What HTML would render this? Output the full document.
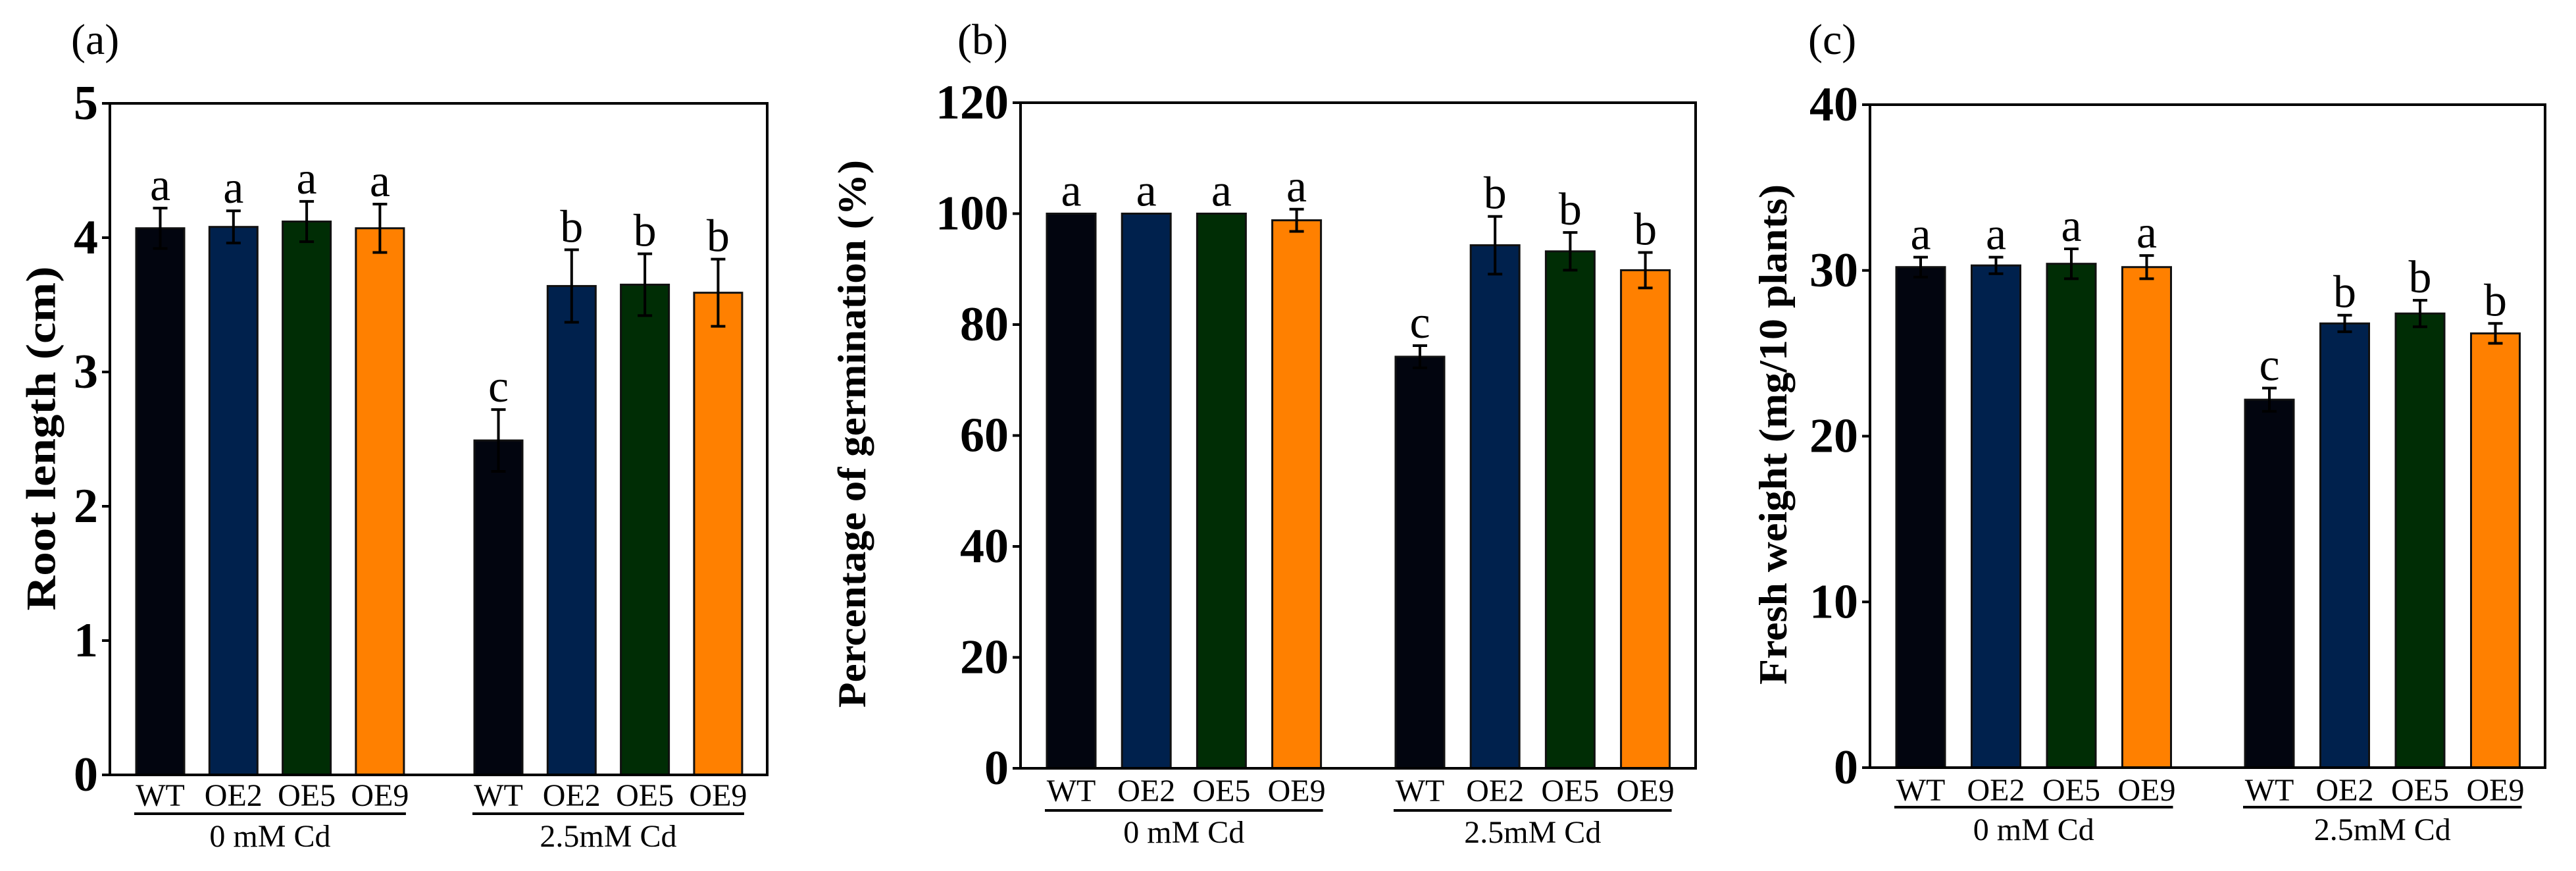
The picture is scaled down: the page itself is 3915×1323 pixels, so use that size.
<!DOCTYPE html>
<html><head><meta charset="utf-8"><style>
html,body{margin:0;padding:0;background:#fff;}
svg{display:block;}
text{font-family:"Liberation Serif",serif;fill:#000;}
</style></head><body>
<svg id="fig" width="3915" height="1323" viewBox="0 0 3915 1323" xmlns="http://www.w3.org/2000/svg"></svg>
<script>
// ----- data -----
const categories = ["WT","OE2","OE5","OE9"];
const groupLabels = ["0 mM Cd","2.5mM Cd"];
const colors = ["#02050f","#00214d","#002d05","#ff8000"];

const rootMeans = [4.07,4.08,4.12,4.07, 2.49,3.64,3.65,3.59];
const rootErrs  = [0.15,0.12,0.15,0.18, 0.23,0.27,0.23,0.25];
const rootLetters = ["a","a","a","a","c","b","b","b"];
const rootTicks = [0,1,2,3,4,5];

const germMeans = [100,100,100,98.8, 74.2,94.3,93.2,89.8];
const germErrs  = [0,0,0,2.0, 2.0,5.2,3.4,3.2];
const germLetters = ["a","a","a","a","c","b","b","b"];
const germTicks = [0,20,40,60,80,100,120];

const fwMeans = [30.2,30.3,30.4,30.2, 22.2,26.8,27.4,26.2];
const fwErrs  = [0.6,0.5,0.9,0.7, 0.7,0.5,0.8,0.6];
const fwLetters = ["a","a","a","a","c","b","b","b"];
const fwTicks = [0,10,20,30,40];

const NS="http://www.w3.org/2000/svg";
const svg=document.getElementById('fig');
function mk(tag,attrs,parent,txt){const e=document.createElementNS(NS,tag);for(const k in attrs)e.setAttribute(k,attrs[k]);if(txt!==undefined)e.textContent=txt;(parent||svg).appendChild(e);return e;}

function panel(cfg){
  const g=mk('g',{});
  
  
  const ymax=cfg.ticks[cfg.ticks.length-1];
  const y=v=>cfg.bottom-(v/ymax)*(cfg.bottom-cfg.top);
  const xb=i=>cfg.x0+(i<4?i*cfg.sp:cfg.g2-cfg.x0+(i-4)*cfg.sp);
  const pl=mk('text',{x:cfg.plx,y:82,'font-size':66},g,cfg.label);
  
  
  cfg.means.forEach((m,i)=>{
    const r=mk('rect',{x:xb(i),y:y(m),width:cfg.bw,height:cfg.bottom-y(m),fill:colors[i%4],stroke:'#111',"stroke-width":3},g);
    
    
    const cx=xb(i)+cfg.bw/2, e=cfg.errs[i];
    if(e>0){
      const eb=mk('path',{d:`M${cx},${y(m-e)}V${y(m+e)}M${cx-11},${y(m-e)}H${cx+11}M${cx-11},${y(m+e)}H${cx+11}`,stroke:'#000','stroke-width':4,fill:'none'},g);
      
      
    }
    const lt=mk('text',{x:cx,y:y(m+e)-12,'font-size':70,'text-anchor':'middle'},g,cfg.letters[i]);
    
    
    const cl=mk('text',{x:cx,y:cfg.catY,'font-size':48,'text-anchor':'middle'},g,categories[i%4]);
    
    
  });
  const fr=mk('rect',{x:cfg.left,y:cfg.top,width:cfg.right-cfg.left,height:cfg.bottom-cfg.top,fill:'none',stroke:'#000','stroke-width':4},g);
  
  
  cfg.ticks.forEach(t=>{
    const tk=mk('line',{x1:cfg.left-12,x2:cfg.left,y1:y(t),y2:y(t),stroke:'#000','stroke-width':4},g);
    
    
    const tl=mk('text',{x:cfg.left-18,y:y(t),'font-size':74,'font-weight':'bold','text-anchor':'end','dominant-baseline':'central'},g,String(t));
    
    
  });
  [0,1].forEach(k=>{
    const x1=xb(k*4)-3, x2=xb(k*4+3)+cfg.bw+3;
    const ul=mk('line',{x1:x1,x2:x2,y1:cfg.ulY,y2:cfg.ulY,stroke:'#000','stroke-width':4},g);
    
    
    const gl=mk('text',{x:(x1+x2)/2,y:cfg.grpY,'font-size':48,'text-anchor':'middle'},g,groupLabels[k]);
    
    
  });
  const yt=mk('text',{x:0,y:0,'font-size':cfg.tfs,'font-weight':'bold','text-anchor':'middle','dominant-baseline':'central',transform:`translate(${cfg.tx},${cfg.ty}) rotate(-90)`,textLength:cfg.tlen,lengthAdjust:'spacingAndGlyphs'},g,cfg.title);
  
  
}

panel({name:'panel-root-length',label:'(a)',plx:108,left:167,right:1166,top:157,bottom:1177,
  x0:207,sp:111.3,g2:721,bw:73,means:rootMeans,errs:rootErrs,letters:rootLetters,ticks:rootTicks,
  catY:1224,ulY:1236,grpY:1286,title:'Root length (cm)',tx:62,ty:666,tfs:64,tlen:523});
panel({name:'panel-germination',label:'(b)',plx:1455,left:1551,right:2577,top:156,bottom:1167,
  x0:1591,sp:114.2,g2:2121,bw:74,means:germMeans,errs:germErrs,letters:germLetters,ticks:germTicks,
  catY:1217,ulY:1231,grpY:1280,title:'Percentage of germination (%)',tx:1295,ty:659,tfs:60,tlen:832});
panel({name:'panel-fresh-weight',label:'(c)',plx:2748,left:2842,right:3868,top:159,bottom:1166,
  x0:2882,sp:114.5,g2:3412,bw:74,means:fwMeans,errs:fwErrs,letters:fwLetters,ticks:fwTicks,
  catY:1216,ulY:1226,grpY:1276,title:'Fresh weight (mg/10 plants)',tx:2695,ty:660,tfs:60,tlen:760});
</script>
</body></html>
